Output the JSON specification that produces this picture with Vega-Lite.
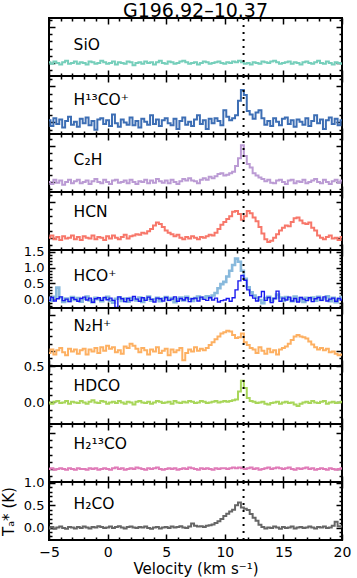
{
  "$schema": "https://vega.github.io/schema/vega-lite/v6.json",
  "padding": {"top": 2, "left": 0, "right": 0, "bottom": 0},
  "bounds": "flush",
  "spacing": 0,
  "title": {"text": "G196.92–10.37", "anchor": "middle", "frame": "group", "baseline": "alphabetic", "fontSize": 19, "fontWeight": "normal", "color": "black", "font": "DejaVu Sans", "offset": -20},
  "config": {
    "font": "DejaVu Sans",
    "view": {"stroke": "black", "strokeWidth": 2},
    "axis": {"grid": false, "domain": false, "tickColor": "black", "tickWidth": 1.5, "labelFontSize": 13, "labelColor": "black", "labelFlush": false, "labelOverlap": false, "labelPadding": 11, "titleFontSize": 15, "titleFontWeight": "normal", "titleColor": "black", "labelFont": "DejaVu Sans", "titleFont": "DejaVu Sans"},
    "text": {"align": "left", "baseline": "middle", "fontSize": 15.5, "font": "DejaVu Sans", "fill": "black", "fontWeight": "normal"}
  },
  "data": {"values": [
{"v":-5,"sio":0.01,"h13":0.03,"c2h":0,"hcn":0,"hco1":0.05,"hco2":-0.03,"n2h":-0.03,"hdco":0,"h213":0,"h2co":-0.02},
{"v":-4.75,"sio":-0.01,"h13":-0.05,"c2h":-0.03,"hcn":0.03,"hco1":-0.04,"hco2":0.06,"n2h":0.02,"hdco":-0.02,"h213":0.01,"h2co":0.01},
{"v":-4.5,"sio":0.02,"h13":0.06,"c2h":0.03,"hcn":-0.02,"hco1":0.08,"hco2":-0.05,"n2h":-0.05,"hdco":0.01,"h213":-0.01,"h2co":-0.03},
{"v":-4.25,"sio":0,"h13":-0.02,"c2h":-0.01,"hcn":0.01,"hco1":0.37,"hco2":0.02,"n2h":0.01,"hdco":0.02,"h213":0,"h2co":0},
{"v":-4,"sio":-0.02,"h13":0.04,"c2h":0.02,"hcn":-0.03,"hco1":0.06,"hco2":0.08,"n2h":0.04,"hdco":-0.01,"h213":0.01,"h2co":0.02},
{"v":-3.75,"sio":0.01,"h13":-0.07,"c2h":-0.04,"hcn":0.02,"hco1":-0.08,"hco2":-0.04,"n2h":-0.02,"hdco":0,"h213":0,"h2co":-0.01},
{"v":-3.5,"sio":0.03,"h13":0.02,"c2h":0,"hcn":-0.01,"hco1":0.03,"hco2":0.01,"n2h":-0.06,"hdco":0.02,"h213":-0.01,"h2co":-0.03},
{"v":-3.25,"sio":-0.01,"h13":0.08,"c2h":0.03,"hcn":0,"hco1":-0.05,"hco2":-0.07,"n2h":0.03,"hdco":-0.02,"h213":0.01,"h2co":0.01},
{"v":-3,"sio":0,"h13":-0.03,"c2h":-0.02,"hcn":0.03,"hco1":0.07,"hco2":0.05,"n2h":-0.01,"hdco":0.01,"h213":0,"h2co":0},
{"v":-2.75,"sio":0.02,"h13":0.01,"c2h":0.01,"hcn":-0.02,"hco1":-0.02,"hco2":0,"n2h":0.02,"hdco":0,"h213":-0.01,"h2co":-0.02},
{"v":-2.5,"sio":-0.01,"h13":-0.06,"c2h":0.03,"hcn":0.01,"hco1":0.04,"hco2":-0.06,"n2h":-0.04,"hdco":-0.01,"h213":0.01,"h2co":0.01},
{"v":-2.25,"sio":0.01,"h13":0.05,"c2h":-0.02,"hcn":-0.03,"hco1":-0.07,"hco2":0.03,"n2h":0.01,"hdco":0.02,"h213":0,"h2co":-0.01},
{"v":-2,"sio":0,"h13":-0.01,"c2h":0,"hcn":0.02,"hco1":0.02,"hco2":0.07,"n2h":0.03,"hdco":0,"h213":0,"h2co":0.02},
{"v":-1.75,"sio":-0.02,"h13":0.07,"c2h":0.02,"hcn":0,"hco1":0.09,"hco2":-0.02,"n2h":-0.05,"hdco":-0.02,"h213":-0.01,"h2co":0},
{"v":-1.5,"sio":0.02,"h13":-0.04,"c2h":-0.03,"hcn":-0.01,"hco1":-0.03,"hco2":0.04,"n2h":0.02,"hdco":0.01,"h213":0.01,"h2co":-0.02},
{"v":-1.25,"sio":0.01,"h13":0.02,"c2h":0.01,"hcn":0.03,"hco1":-0.09,"hco2":-0.09,"n2h":-0.01,"hdco":0.03,"h213":0,"h2co":0.01},
{"v":-1,"sio":-0.01,"h13":-0.1,"c2h":0.04,"hcn":-0.02,"hco1":0.05,"hco2":0.02,"n2h":0.04,"hdco":0,"h213":0.01,"h2co":0},
{"v":-0.75,"sio":0,"h13":0.04,"c2h":0,"hcn":0.01,"hco1":0.01,"hco2":0.05,"n2h":-0.03,"hdco":-0.01,"h213":-0.01,"h2co":0.03},
{"v":-0.5,"sio":0.03,"h13":0.06,"c2h":-0.02,"hcn":0,"hco1":-0.06,"hco2":-0.03,"n2h":0.05,"hdco":0.02,"h213":0,"h2co":0.01},
{"v":-0.25,"sio":0.01,"h13":-0.02,"c2h":0.03,"hcn":-0.03,"hco1":0.03,"hco2":0.06,"n2h":0,"hdco":0.01,"h213":0.01,"h2co":-0.01},
{"v":0,"sio":-0.01,"h13":0.03,"c2h":0,"hcn":0.02,"hco1":0.08,"hco2":-0.01,"n2h":0.07,"hdco":-0.02,"h213":0,"h2co":0},
{"v":0.25,"sio":0,"h13":-0.05,"c2h":-0.03,"hcn":-0.01,"hco1":-0.04,"hco2":0.04,"n2h":0.03,"hdco":0,"h213":-0.01,"h2co":0.02},
{"v":0.5,"sio":0.02,"h13":0.11,"c2h":0.02,"hcn":0.03,"hco1":-0.1,"hco2":-0.03,"n2h":0.05,"hdco":0.01,"h213":0.01,"h2co":-0.01},
{"v":0.75,"sio":-0.02,"h13":-0.01,"c2h":0.03,"hcn":0,"hco1":0.02,"hco2":-0.25,"n2h":-0.02,"hdco":-0.01,"h213":0.02,"h2co":0.01},
{"v":1,"sio":0.01,"h13":-0.06,"c2h":-0.01,"hcn":-0.02,"hco1":0.06,"hco2":0.08,"n2h":0.01,"hdco":0.02,"h213":0,"h2co":0.03},
{"v":1.25,"sio":0,"h13":0.04,"c2h":0,"hcn":0.01,"hco1":-0.05,"hco2":0.02,"n2h":-0.04,"hdco":0,"h213":0.01,"h2co":0},
{"v":1.5,"sio":-0.01,"h13":0,"c2h":0.02,"hcn":0.04,"hco1":0.03,"hco2":-0.07,"n2h":0.06,"hdco":-0.02,"h213":-0.01,"h2co":-0.02},
{"v":1.75,"sio":0.02,"h13":-0.03,"c2h":-0.02,"hcn":-0.01,"hco1":-0.07,"hco2":0.03,"n2h":0.04,"hdco":0.01,"h213":0,"h2co":0.01},
{"v":2,"sio":0.01,"h13":0.07,"c2h":0.03,"hcn":0.02,"hco1":0.04,"hco2":-0.04,"n2h":0.1,"hdco":0,"h213":0.01,"h2co":0.02},
{"v":2.25,"sio":-0.03,"h13":-0.04,"c2h":0,"hcn":0.03,"hco1":0.01,"hco2":0.09,"n2h":0.07,"hdco":-0.03,"h213":0,"h2co":0},
{"v":2.5,"sio":0,"h13":0.02,"c2h":-0.03,"hcn":0.05,"hco1":-0.03,"hco2":0.01,"n2h":0.03,"hdco":0.01,"h213":0.02,"h2co":-0.01},
{"v":2.75,"sio":0.01,"h13":-0.07,"c2h":0.01,"hcn":0.04,"hco1":0.06,"hco2":-0.06,"n2h":-0.02,"hdco":0.02,"h213":0.01,"h2co":0.01},
{"v":3,"sio":-0.01,"h13":0.05,"c2h":0,"hcn":0.07,"hco1":-0.08,"hco2":0.05,"n2h":0.04,"hdco":0,"h213":0,"h2co":0},
{"v":3.25,"sio":0.02,"h13":0.01,"c2h":0.03,"hcn":0.06,"hco1":0.02,"hco2":-0.03,"n2h":0.01,"hdco":-0.01,"h213":-0.01,"h2co":0.02},
{"v":3.5,"sio":0,"h13":-0.03,"c2h":-0.02,"hcn":0.09,"hco1":0.09,"hco2":0.07,"n2h":-0.05,"hdco":0.01,"h213":0.01,"h2co":-0.01},
{"v":3.75,"sio":0.01,"h13":0.1,"c2h":0.02,"hcn":0.12,"hco1":-0.04,"hco2":0,"n2h":0.02,"hdco":-0.02,"h213":0,"h2co":-0.03},
{"v":4,"sio":-0.02,"h13":-0.02,"c2h":-0.01,"hcn":0.17,"hco1":0,"hco2":-0.08,"n2h":-0.01,"hdco":0,"h213":0.01,"h2co":0},
{"v":4.25,"sio":0.01,"h13":0.04,"c2h":0.04,"hcn":0.21,"hco1":0.05,"hco2":0.04,"n2h":0.05,"hdco":0.02,"h213":0.02,"h2co":0.01},
{"v":4.5,"sio":0.03,"h13":-0.05,"c2h":0.01,"hcn":0.19,"hco1":-0.06,"hco2":0.02,"n2h":-0.03,"hdco":0.01,"h213":0,"h2co":-0.02},
{"v":4.75,"sio":0,"h13":0.03,"c2h":-0.01,"hcn":0.15,"hco1":0.03,"hco2":-0.05,"n2h":0,"hdco":-0.01,"h213":-0.01,"h2co":0},
{"v":5,"sio":-0.01,"h13":0.06,"c2h":0.02,"hcn":0.1,"hco1":0.07,"hco2":0.06,"n2h":0.03,"hdco":0,"h213":0,"h2co":0.01},
{"v":5.25,"sio":0.02,"h13":-0.01,"c2h":-0.02,"hcn":0.07,"hco1":-0.02,"hco2":-0.03,"n2h":-0.06,"hdco":0.01,"h213":0.01,"h2co":-0.01},
{"v":5.5,"sio":0.01,"h13":-0.04,"c2h":0.03,"hcn":0.05,"hco1":0.04,"hco2":0.01,"n2h":0.02,"hdco":-0.02,"h213":0,"h2co":0.02},
{"v":5.75,"sio":-0.01,"h13":0.05,"c2h":0,"hcn":0.02,"hco1":-0.09,"hco2":0.08,"n2h":-0.02,"hdco":0.02,"h213":0.01,"h2co":0},
{"v":6,"sio":0,"h13":-0.09,"c2h":-0.03,"hcn":0.04,"hco1":0.01,"hco2":-0.06,"n2h":0.01,"hdco":0,"h213":-0.01,"h2co":0.01},
{"v":6.25,"sio":0.02,"h13":0.02,"c2h":0.01,"hcn":0,"hco1":0.06,"hco2":0.03,"n2h":0.04,"hdco":-0.01,"h213":0,"h2co":0.03},
{"v":6.5,"sio":0.03,"h13":0.07,"c2h":0.04,"hcn":-0.02,"hco1":-0.03,"hco2":-0.02,"n2h":-0.13,"hdco":0.01,"h213":0.01,"h2co":0},
{"v":6.75,"sio":0.01,"h13":-0.03,"c2h":0.02,"hcn":0.01,"hco1":0.08,"hco2":0.05,"n2h":-0.03,"hdco":0,"h213":0,"h2co":-0.01},
{"v":7,"sio":-0.01,"h13":0.01,"c2h":0.05,"hcn":-0.01,"hco1":0.02,"hco2":-0.07,"n2h":0.02,"hdco":0.02,"h213":0.02,"h2co":0.02},
{"v":7.25,"sio":0,"h13":-0.05,"c2h":0.02,"hcn":0.02,"hco1":-0.05,"hco2":0.02,"n2h":-0.01,"hdco":0.01,"h213":0.01,"h2co":0.09},
{"v":7.5,"sio":0.01,"h13":0.04,"c2h":0.01,"hcn":0,"hco1":0.04,"hco2":0.04,"n2h":0.05,"hdco":-0.01,"h213":0,"h2co":0.04},
{"v":7.75,"sio":-0.02,"h13":0.1,"c2h":-0.02,"hcn":-0.02,"hco1":0.09,"hco2":-0.05,"n2h":0,"hdco":0,"h213":-0.01,"h2co":0.02},
{"v":8,"sio":0,"h13":-0.02,"c2h":0.03,"hcn":0.01,"hco1":0.03,"hco2":0.07,"n2h":0.03,"hdco":0.02,"h213":0.01,"h2co":0.03},
{"v":8.25,"sio":0.02,"h13":0.03,"c2h":0.05,"hcn":0,"hco1":0.06,"hco2":0,"n2h":0.01,"hdco":0.01,"h213":0,"h2co":0.01},
{"v":8.5,"sio":0.01,"h13":-0.09,"c2h":0.03,"hcn":0.02,"hco1":0.1,"hco2":-0.03,"n2h":0.04,"hdco":-0.01,"h213":0.01,"h2co":0.04},
{"v":8.75,"sio":-0.01,"h13":0.05,"c2h":0.07,"hcn":0.04,"hco1":0.05,"hco2":0.06,"n2h":0.08,"hdco":0,"h213":0,"h2co":0.05},
{"v":9,"sio":0,"h13":-0.01,"c2h":0.05,"hcn":0.03,"hco1":0.12,"hco2":-0.02,"n2h":0.12,"hdco":0.01,"h213":-0.01,"h2co":0.07},
{"v":9.25,"sio":0.01,"h13":0.06,"c2h":0.08,"hcn":0.07,"hco1":0.2,"hco2":0.04,"n2h":0.16,"hdco":0.02,"h213":0.01,"h2co":0.1},
{"v":9.5,"sio":0.02,"h13":0.02,"c2h":0.11,"hcn":0.12,"hco1":0.35,"hco2":-0.08,"n2h":0.2,"hdco":0,"h213":0,"h2co":0.14},
{"v":9.75,"sio":0,"h13":-0.04,"c2h":0.12,"hcn":0.18,"hco1":0.48,"hco2":-0.04,"n2h":0.24,"hdco":0.01,"h213":0.01,"h2co":0.19},
{"v":10,"sio":-0.01,"h13":0.17,"c2h":0.09,"hcn":0.22,"hco1":0.55,"hco2":-0.02,"n2h":0.26,"hdco":0.02,"h213":0.01,"h2co":0.26},
{"v":10.25,"sio":0.01,"h13":0.08,"c2h":0.1,"hcn":0.26,"hco1":0.72,"hco2":0.03,"n2h":0.28,"hdco":0.01,"h213":0,"h2co":0.31},
{"v":10.5,"sio":0,"h13":0.03,"c2h":0.12,"hcn":0.3,"hco1":0.9,"hco2":-0.06,"n2h":0.27,"hdco":0.02,"h213":0.01,"h2co":0.36},
{"v":10.75,"sio":0.02,"h13":0.06,"c2h":0.14,"hcn":0.36,"hco1":1.08,"hco2":0.05,"n2h":0.22,"hdco":0.03,"h213":0.02,"h2co":0.4},
{"v":11,"sio":0.01,"h13":0.1,"c2h":0.22,"hcn":0.37,"hco1":1.28,"hco2":0.3,"n2h":0.18,"hdco":0.04,"h213":0.01,"h2co":0.5},
{"v":11.25,"sio":0.03,"h13":0.3,"c2h":0.33,"hcn":0.33,"hco1":1.18,"hco2":0.58,"n2h":0.19,"hdco":0.15,"h213":0.02,"h2co":0.56},
{"v":11.5,"sio":0.01,"h13":0.45,"c2h":0.51,"hcn":0.25,"hco1":0.9,"hco2":0.75,"n2h":0.24,"hdco":0.3,"h213":0.01,"h2co":0.45},
{"v":11.75,"sio":-0.01,"h13":0.38,"c2h":0.36,"hcn":0.3,"hco1":0.65,"hco2":0.6,"n2h":0.12,"hdco":0.2,"h213":0,"h2co":0.42},
{"v":12,"sio":0,"h13":0.16,"c2h":0.25,"hcn":0.37,"hco1":0.38,"hco2":0.3,"n2h":0.08,"hdco":0.06,"h213":0.01,"h2co":0.39},
{"v":12.25,"sio":-0.02,"h13":0.11,"c2h":0.2,"hcn":0.34,"hco1":0.22,"hco2":0.12,"n2h":0.04,"hdco":0.02,"h213":0.02,"h2co":0.3},
{"v":12.5,"sio":0.01,"h13":0.05,"c2h":0.12,"hcn":0.28,"hco1":0.12,"hco2":0.04,"n2h":0.02,"hdco":0.01,"h213":0,"h2co":0.22},
{"v":12.75,"sio":0,"h13":0.14,"c2h":0.09,"hcn":0.23,"hco1":0.05,"hco2":-0.05,"n2h":-0.03,"hdco":-0.01,"h213":0.01,"h2co":0.15},
{"v":13,"sio":-0.01,"h13":0.17,"c2h":0.06,"hcn":0.15,"hco1":-0.02,"hco2":0.08,"n2h":0.05,"hdco":0,"h213":-0.01,"h2co":0.06},
{"v":13.25,"sio":0.02,"h13":0.06,"c2h":0.04,"hcn":0.06,"hco1":-0.12,"hco2":0.25,"n2h":0,"hdco":0.01,"h213":0,"h2co":0.01},
{"v":13.5,"sio":0.01,"h13":-0.03,"c2h":0.01,"hcn":-0.02,"hco1":0.04,"hco2":-0.03,"n2h":-0.04,"hdco":-0.02,"h213":0.01,"h2co":-0.02},
{"v":13.75,"sio":0,"h13":0.02,"c2h":0.03,"hcn":-0.06,"hco1":0.08,"hco2":0.06,"n2h":0.03,"hdco":-0.03,"h213":0.02,"h2co":0},
{"v":14,"sio":0.02,"h13":-0.05,"c2h":-0.01,"hcn":-0.04,"hco1":-0.05,"hco2":-0.1,"n2h":-0.02,"hdco":-0.01,"h213":0,"h2co":-0.01},
{"v":14.25,"sio":0.03,"h13":0.06,"c2h":-0.02,"hcn":0,"hco1":0.03,"hco2":0.03,"n2h":0.01,"hdco":0,"h213":0.01,"h2co":0.02},
{"v":14.5,"sio":0.01,"h13":0.01,"c2h":0.02,"hcn":0.05,"hco1":0.15,"hco2":0.26,"n2h":-0.05,"hdco":0.01,"h213":0.02,"h2co":0},
{"v":14.75,"sio":-0.01,"h13":-0.04,"c2h":0.03,"hcn":0.1,"hco1":0.06,"hco2":-0.06,"n2h":0.02,"hdco":-0.02,"h213":0.01,"h2co":-0.03},
{"v":15,"sio":0,"h13":0.05,"c2h":0,"hcn":0.14,"hco1":-0.04,"hco2":0.04,"n2h":0.04,"hdco":0,"h213":0,"h2co":0.01},
{"v":15.25,"sio":0.01,"h13":0.07,"c2h":-0.03,"hcn":0.17,"hco1":0.07,"hco2":-0.02,"n2h":0.06,"hdco":0.01,"h213":0.01,"h2co":-0.01},
{"v":15.5,"sio":0.02,"h13":-0.02,"c2h":0.02,"hcn":0.16,"hco1":0.02,"hco2":0.07,"n2h":0.1,"hdco":-0.01,"h213":0.02,"h2co":0},
{"v":15.75,"sio":-0.01,"h13":0.03,"c2h":0.03,"hcn":0.22,"hco1":-0.06,"hco2":-0.05,"n2h":0.15,"hdco":0,"h213":0,"h2co":0.02},
{"v":16,"sio":0.01,"h13":-0.06,"c2h":-0.02,"hcn":0.27,"hco1":0.09,"hco2":0.03,"n2h":0.2,"hdco":-0.03,"h213":-0.01,"h2co":-0.02},
{"v":16.25,"sio":0,"h13":0.04,"c2h":0.01,"hcn":0.28,"hco1":-0.03,"hco2":-0.08,"n2h":0.22,"hdco":-0.05,"h213":0.01,"h2co":0},
{"v":16.5,"sio":-0.02,"h13":0.01,"c2h":0,"hcn":0.24,"hco1":0.04,"hco2":0.06,"n2h":0.2,"hdco":-0.02,"h213":0,"h2co":0.01},
{"v":16.75,"sio":0.01,"h13":-0.03,"c2h":0.03,"hcn":0.2,"hco1":-0.08,"hco2":0.01,"n2h":0.19,"hdco":0,"h213":0.01,"h2co":-0.01},
{"v":17,"sio":0.02,"h13":0.06,"c2h":-0.02,"hcn":0.19,"hco1":0.05,"hco2":-0.04,"n2h":0.17,"hdco":0.01,"h213":0.02,"h2co":0},
{"v":17.25,"sio":0,"h13":-0.05,"c2h":0,"hcn":0.21,"hco1":0.01,"hco2":0.05,"n2h":0.13,"hdco":-0.01,"h213":0,"h2co":0.02},
{"v":17.5,"sio":-0.01,"h13":0.02,"c2h":0.02,"hcn":0.14,"hco1":0.06,"hco2":-0.07,"n2h":0.09,"hdco":0.02,"h213":0.01,"h2co":0},
{"v":17.75,"sio":0.01,"h13":0.1,"c2h":0.04,"hcn":0.1,"hco1":-0.04,"hco2":0.02,"n2h":0.05,"hdco":0,"h213":-0.01,"h2co":-0.02},
{"v":18,"sio":0.03,"h13":-0.01,"c2h":0,"hcn":0.03,"hco1":0.08,"hco2":0.06,"n2h":0.02,"hdco":-0.01,"h213":0,"h2co":0.01},
{"v":18.25,"sio":0,"h13":0.04,"c2h":-0.02,"hcn":0,"hco1":-0.02,"hco2":-0.03,"n2h":0.04,"hdco":0.01,"h213":0.01,"h2co":0},
{"v":18.5,"sio":-0.01,"h13":-0.09,"c2h":0.03,"hcn":-0.02,"hco1":0.03,"hco2":0.08,"n2h":0.01,"hdco":0.02,"h213":0,"h2co":0.02},
{"v":18.75,"sio":0.02,"h13":0.03,"c2h":0,"hcn":0.01,"hco1":0.1,"hco2":-0.05,"n2h":0.03,"hdco":-0.02,"h213":-0.01,"h2co":-0.01},
{"v":19,"sio":0,"h13":0.07,"c2h":-0.03,"hcn":0.03,"hco1":-0.06,"hco2":0.01,"n2h":-0.02,"hdco":0,"h213":0.01,"h2co":0},
{"v":19.25,"sio":-0.02,"h13":-0.02,"c2h":0.01,"hcn":-0.01,"hco1":0.05,"hco2":0.04,"n2h":-0.01,"hdco":0.01,"h213":0,"h2co":0.04},
{"v":19.5,"sio":0.01,"h13":0.05,"c2h":0.03,"hcn":0,"hco1":-0.09,"hco2":-0.06,"n2h":-0.04,"hdco":-0.01,"h213":-0.01,"h2co":0.13},
{"v":19.75,"sio":0,"h13":-0.04,"c2h":-0.01,"hcn":-0.03,"hco1":0.02,"hco2":0.03,"n2h":-0.06,"hdco":0,"h213":0,"h2co":0.03},
{"v":20,"sio":-0.01,"h13":0.03,"c2h":0.02,"hcn":0.01,"hco1":0.07,"hco2":-0.02,"n2h":-0.05,"hdco":0.01,"h213":0.01,"h2co":0.02}
  ]},
  "vconcat": [
    {
      "width": 293, "height": 58,
      "layer": [
        {"mark": {"type": "line", "interpolate": "step", "color": "#76cfbb", "strokeWidth": 2},
         "encoding": {
           "x": {"field": "v", "type": "quantitative", "scale": {"domain": [-5, 20], "nice": false, "zero": false}, "axis": {"orient": "bottom", "values": [-5, 0, 5, 10, 15, 20], "tickSize": -6, "labels": false, "title": null}},
           "y": {"field": "sio", "type": "quantitative", "scale": {"domain": [-0.18, 0.625], "nice": false, "zero": false}, "axis": {"orient": "left", "values": [0, 0.5], "tickSize": -6, "labels": false, "title": null}}}},
        {"mark": {"type": "line", "opacity": 0},
         "encoding": {
           "x": {"field": "v", "type": "quantitative", "axis": {"orient": "top", "values": [-5, 0, 5, 10, 15, 20], "tickSize": -6, "labels": false, "title": null}},
           "y": {"field": "sio", "type": "quantitative", "axis": {"orient": "right", "values": [0, 0.5], "tickSize": -6, "labels": false, "title": null}}}},
        {"mark": {"type": "line", "opacity": 0},
         "encoding": {
           "x": {"field": "v", "type": "quantitative", "axis": {"orient": "bottom", "values": [-4, -3, -2, -1, 1, 2, 3, 4, 6, 7, 8, 9, 11, 12, 13, 14, 16, 17, 18, 19], "tickSize": -3, "labels": false, "title": null}},
           "y": {"field": "sio", "type": "quantitative", "axis": {"orient": "left", "values": [-0.1, 0.1, 0.2, 0.3, 0.4, 0.6], "tickSize": -3, "labels": false, "title": null}}}},
        {"mark": {"type": "line", "opacity": 0},
         "encoding": {
           "x": {"field": "v", "type": "quantitative", "axis": {"orient": "top", "values": [-4, -3, -2, -1, 1, 2, 3, 4, 6, 7, 8, 9, 11, 12, 13, 14, 16, 17, 18, 19], "tickSize": -3, "labels": false, "title": null}},
           "y": {"field": "sio", "type": "quantitative", "axis": {"orient": "right", "values": [-0.1, 0.1, 0.2, 0.3, 0.4, 0.6], "tickSize": -3, "labels": false, "title": null}}}},
        {"data": {"values": [{"vlsr": 11.6}]},
         "mark": {"type": "rule", "color": "black", "strokeWidth": 2, "strokeDash": [2, 5]},
         "encoding": {"x": {"field": "vlsr", "type": "quantitative", "axis": null}}},
        {"data": {"values": [{"label": "SiO"}]},
         "mark": {"type": "text"},
         "encoding": {"text": {"field": "label"}, "x": {"datum": -2.9, "axis": null}, "y": {"datum": 0.25, "axis": null}}}
      ],
      "resolve": {"axis": {"x": "independent", "y": "independent"}}
    },
    {
      "width": 293, "height": 58,
      "layer": [
        {"mark": {"type": "line", "interpolate": "step", "color": "#3d6eb4", "strokeWidth": 2},
         "encoding": {
           "x": {"field": "v", "type": "quantitative", "scale": {"domain": [-5, 20], "nice": false, "zero": false}, "axis": {"orient": "bottom", "values": [-5, 0, 5, 10, 15, 20], "tickSize": -6, "labels": false, "title": null}},
           "y": {"field": "h13", "type": "quantitative", "scale": {"domain": [-0.16, 0.645], "nice": false, "zero": false}, "axis": {"orient": "left", "values": [0, 0.5], "tickSize": -6, "labels": false, "title": null}}}},
        {"mark": {"type": "line", "opacity": 0},
         "encoding": {
           "x": {"field": "v", "type": "quantitative", "axis": {"orient": "top", "values": [-5, 0, 5, 10, 15, 20], "tickSize": -6, "labels": false, "title": null}},
           "y": {"field": "h13", "type": "quantitative", "axis": {"orient": "right", "values": [0, 0.5], "tickSize": -6, "labels": false, "title": null}}}},
        {"mark": {"type": "line", "opacity": 0},
         "encoding": {
           "x": {"field": "v", "type": "quantitative", "axis": {"orient": "bottom", "values": [-4, -3, -2, -1, 1, 2, 3, 4, 6, 7, 8, 9, 11, 12, 13, 14, 16, 17, 18, 19], "tickSize": -3, "labels": false, "title": null}},
           "y": {"field": "h13", "type": "quantitative", "axis": {"orient": "left", "values": [-0.1, 0.1, 0.2, 0.3, 0.4, 0.6], "tickSize": -3, "labels": false, "title": null}}}},
        {"mark": {"type": "line", "opacity": 0},
         "encoding": {
           "x": {"field": "v", "type": "quantitative", "axis": {"orient": "top", "values": [-4, -3, -2, -1, 1, 2, 3, 4, 6, 7, 8, 9, 11, 12, 13, 14, 16, 17, 18, 19], "tickSize": -3, "labels": false, "title": null}},
           "y": {"field": "h13", "type": "quantitative", "axis": {"orient": "right", "values": [-0.1, 0.1, 0.2, 0.3, 0.4, 0.6], "tickSize": -3, "labels": false, "title": null}}}},
        {"data": {"values": [{"vlsr": 11.6}]},
         "mark": {"type": "rule", "color": "black", "strokeWidth": 2, "strokeDash": [2, 5]},
         "encoding": {"x": {"field": "vlsr", "type": "quantitative", "axis": null}}},
        {"data": {"values": [{"label": "H¹³CO⁺"}]},
         "mark": {"type": "text"},
         "encoding": {"text": {"field": "label"}, "x": {"datum": -2.9, "axis": null}, "y": {"datum": 0.31, "axis": null}}}
      ],
      "resolve": {"axis": {"x": "independent", "y": "independent"}}
    },
    {
      "width": 293, "height": 58,
      "layer": [
        {"mark": {"type": "line", "interpolate": "step", "color": "#bb9bd4", "strokeWidth": 2},
         "encoding": {
           "x": {"field": "v", "type": "quantitative", "scale": {"domain": [-5, 20], "nice": false, "zero": false}, "axis": {"orient": "bottom", "values": [-5, 0, 5, 10, 15, 20], "tickSize": -6, "labels": false, "title": null}},
           "y": {"field": "c2h", "type": "quantitative", "scale": {"domain": [-0.14, 0.665], "nice": false, "zero": false}, "axis": {"orient": "left", "values": [0, 0.5], "tickSize": -6, "labels": false, "title": null}}}},
        {"mark": {"type": "line", "opacity": 0},
         "encoding": {
           "x": {"field": "v", "type": "quantitative", "axis": {"orient": "top", "values": [-5, 0, 5, 10, 15, 20], "tickSize": -6, "labels": false, "title": null}},
           "y": {"field": "c2h", "type": "quantitative", "axis": {"orient": "right", "values": [0, 0.5], "tickSize": -6, "labels": false, "title": null}}}},
        {"mark": {"type": "line", "opacity": 0},
         "encoding": {
           "x": {"field": "v", "type": "quantitative", "axis": {"orient": "bottom", "values": [-4, -3, -2, -1, 1, 2, 3, 4, 6, 7, 8, 9, 11, 12, 13, 14, 16, 17, 18, 19], "tickSize": -3, "labels": false, "title": null}},
           "y": {"field": "c2h", "type": "quantitative", "axis": {"orient": "left", "values": [-0.1, 0.1, 0.2, 0.3, 0.4, 0.6], "tickSize": -3, "labels": false, "title": null}}}},
        {"mark": {"type": "line", "opacity": 0},
         "encoding": {
           "x": {"field": "v", "type": "quantitative", "axis": {"orient": "top", "values": [-4, -3, -2, -1, 1, 2, 3, 4, 6, 7, 8, 9, 11, 12, 13, 14, 16, 17, 18, 19], "tickSize": -3, "labels": false, "title": null}},
           "y": {"field": "c2h", "type": "quantitative", "axis": {"orient": "right", "values": [-0.1, 0.1, 0.2, 0.3, 0.4, 0.6], "tickSize": -3, "labels": false, "title": null}}}},
        {"data": {"values": [{"vlsr": 11.6}]},
         "mark": {"type": "rule", "color": "black", "strokeWidth": 2, "strokeDash": [2, 5]},
         "encoding": {"x": {"field": "vlsr", "type": "quantitative", "axis": null}}},
        {"data": {"values": [{"label": "C₂H"}]},
         "mark": {"type": "text"},
         "encoding": {"text": {"field": "label"}, "x": {"datum": -2.9, "axis": null}, "y": {"datum": 0.3, "axis": null}}}
      ],
      "resolve": {"axis": {"x": "independent", "y": "independent"}}
    },
    {
      "width": 293, "height": 58,
      "layer": [
        {"mark": {"type": "line", "interpolate": "step", "color": "#f7776a", "strokeWidth": 2},
         "encoding": {
           "x": {"field": "v", "type": "quantitative", "scale": {"domain": [-5, 20], "nice": false, "zero": false}, "axis": {"orient": "bottom", "values": [-5, 0, 5, 10, 15, 20], "tickSize": -6, "labels": false, "title": null}},
           "y": {"field": "hcn", "type": "quantitative", "scale": {"domain": [-0.17, 0.635], "nice": false, "zero": false}, "axis": {"orient": "left", "values": [0, 0.5], "tickSize": -6, "labels": false, "title": null}}}},
        {"mark": {"type": "line", "opacity": 0},
         "encoding": {
           "x": {"field": "v", "type": "quantitative", "axis": {"orient": "top", "values": [-5, 0, 5, 10, 15, 20], "tickSize": -6, "labels": false, "title": null}},
           "y": {"field": "hcn", "type": "quantitative", "axis": {"orient": "right", "values": [0, 0.5], "tickSize": -6, "labels": false, "title": null}}}},
        {"mark": {"type": "line", "opacity": 0},
         "encoding": {
           "x": {"field": "v", "type": "quantitative", "axis": {"orient": "bottom", "values": [-4, -3, -2, -1, 1, 2, 3, 4, 6, 7, 8, 9, 11, 12, 13, 14, 16, 17, 18, 19], "tickSize": -3, "labels": false, "title": null}},
           "y": {"field": "hcn", "type": "quantitative", "axis": {"orient": "left", "values": [-0.1, 0.1, 0.2, 0.3, 0.4, 0.6], "tickSize": -3, "labels": false, "title": null}}}},
        {"mark": {"type": "line", "opacity": 0},
         "encoding": {
           "x": {"field": "v", "type": "quantitative", "axis": {"orient": "top", "values": [-4, -3, -2, -1, 1, 2, 3, 4, 6, 7, 8, 9, 11, 12, 13, 14, 16, 17, 18, 19], "tickSize": -3, "labels": false, "title": null}},
           "y": {"field": "hcn", "type": "quantitative", "axis": {"orient": "right", "values": [-0.1, 0.1, 0.2, 0.3, 0.4, 0.6], "tickSize": -3, "labels": false, "title": null}}}},
        {"data": {"values": [{"vlsr": 11.6}]},
         "mark": {"type": "rule", "color": "black", "strokeWidth": 2, "strokeDash": [2, 5]},
         "encoding": {"x": {"field": "vlsr", "type": "quantitative", "axis": null}}},
        {"data": {"values": [{"label": "HCN"}]},
         "mark": {"type": "text"},
         "encoding": {"text": {"field": "label"}, "x": {"datum": -2.9, "axis": null}, "y": {"datum": 0.36, "axis": null}}}
      ],
      "resolve": {"axis": {"x": "independent", "y": "independent"}}
    },
    {
      "width": 293, "height": 58,
      "layer": [
        {"mark": {"type": "line", "interpolate": "step", "color": "#88b9dc", "strokeWidth": 2.6},
         "encoding": {
           "x": {"field": "v", "type": "quantitative", "scale": {"domain": [-5, 20], "nice": false, "zero": false}, "axis": {"orient": "bottom", "values": [-5, 0, 5, 10, 15, 20], "tickSize": -6, "labels": false, "title": null}},
           "y": {"field": "hco1", "type": "quantitative", "scale": {"domain": [-0.27, 1.55], "nice": false, "zero": false}, "axis": {"orient": "left", "values": [0, 0.5, 1, 1.5], "format": ".1f", "tickSize": -6, "labels": true, "title": null}}}},
        {"mark": {"type": "line", "opacity": 0},
         "encoding": {
           "x": {"field": "v", "type": "quantitative", "axis": {"orient": "top", "values": [-5, 0, 5, 10, 15, 20], "tickSize": -6, "labels": false, "title": null}},
           "y": {"field": "hco1", "type": "quantitative", "axis": {"orient": "right", "values": [0, 0.5, 1, 1.5], "tickSize": -6, "labels": false, "title": null}}}},
        {"mark": {"type": "line", "opacity": 0},
         "encoding": {
           "x": {"field": "v", "type": "quantitative", "axis": {"orient": "bottom", "values": [-4, -3, -2, -1, 1, 2, 3, 4, 6, 7, 8, 9, 11, 12, 13, 14, 16, 17, 18, 19], "tickSize": -3, "labels": false, "title": null}},
           "y": {"field": "hco1", "type": "quantitative", "axis": {"orient": "left", "values": [-0.2, -0.1, 0.1, 0.2, 0.3, 0.4, 0.6, 0.7, 0.8, 0.9, 1.1, 1.2, 1.3, 1.4], "tickSize": -3, "labels": false, "title": null}}}},
        {"mark": {"type": "line", "opacity": 0},
         "encoding": {
           "x": {"field": "v", "type": "quantitative", "axis": {"orient": "top", "values": [-4, -3, -2, -1, 1, 2, 3, 4, 6, 7, 8, 9, 11, 12, 13, 14, 16, 17, 18, 19], "tickSize": -3, "labels": false, "title": null}},
           "y": {"field": "hco1", "type": "quantitative", "axis": {"orient": "right", "values": [-0.2, -0.1, 0.1, 0.2, 0.3, 0.4, 0.6, 0.7, 0.8, 0.9, 1.1, 1.2, 1.3, 1.4], "tickSize": -3, "labels": false, "title": null}}}},
        {"mark": {"type": "line", "interpolate": "step", "color": "#1a1aee", "strokeWidth": 1.4},
         "encoding": {
           "x": {"field": "v", "type": "quantitative", "axis": null},
           "y": {"field": "hco2", "type": "quantitative", "axis": null}}},
        {"data": {"values": [{"vlsr": 11.6}]},
         "mark": {"type": "rule", "color": "black", "strokeWidth": 2, "strokeDash": [2, 5]},
         "encoding": {"x": {"field": "vlsr", "type": "quantitative", "axis": null}}},
        {"data": {"values": [{"label": "HCO⁺"}]},
         "mark": {"type": "text"},
         "encoding": {"text": {"field": "label"}, "x": {"datum": -2.9, "axis": null}, "y": {"datum": 0.73, "axis": null}}}
      ],
      "resolve": {"axis": {"x": "independent", "y": "independent"}}
    },
    {
      "width": 293, "height": 58,
      "layer": [
        {"mark": {"type": "line", "interpolate": "step", "color": "#fdb062", "strokeWidth": 2},
         "encoding": {
           "x": {"field": "v", "type": "quantitative", "scale": {"domain": [-5, 20], "nice": false, "zero": false}, "axis": {"orient": "bottom", "values": [-5, 0, 5, 10, 15, 20], "tickSize": -6, "labels": false, "title": null}},
           "y": {"field": "n2h", "type": "quantitative", "scale": {"domain": [-0.21, 0.595], "nice": false, "zero": false}, "axis": {"orient": "left", "values": [0, 0.5], "tickSize": -6, "labels": false, "title": null}}}},
        {"mark": {"type": "line", "opacity": 0},
         "encoding": {
           "x": {"field": "v", "type": "quantitative", "axis": {"orient": "top", "values": [-5, 0, 5, 10, 15, 20], "tickSize": -6, "labels": false, "title": null}},
           "y": {"field": "n2h", "type": "quantitative", "axis": {"orient": "right", "values": [0, 0.5], "tickSize": -6, "labels": false, "title": null}}}},
        {"mark": {"type": "line", "opacity": 0},
         "encoding": {
           "x": {"field": "v", "type": "quantitative", "axis": {"orient": "bottom", "values": [-4, -3, -2, -1, 1, 2, 3, 4, 6, 7, 8, 9, 11, 12, 13, 14, 16, 17, 18, 19], "tickSize": -3, "labels": false, "title": null}},
           "y": {"field": "n2h", "type": "quantitative", "axis": {"orient": "left", "values": [-0.2, -0.1, 0.1, 0.2, 0.3, 0.4], "tickSize": -3, "labels": false, "title": null}}}},
        {"mark": {"type": "line", "opacity": 0},
         "encoding": {
           "x": {"field": "v", "type": "quantitative", "axis": {"orient": "top", "values": [-4, -3, -2, -1, 1, 2, 3, 4, 6, 7, 8, 9, 11, 12, 13, 14, 16, 17, 18, 19], "tickSize": -3, "labels": false, "title": null}},
           "y": {"field": "n2h", "type": "quantitative", "axis": {"orient": "right", "values": [-0.2, -0.1, 0.1, 0.2, 0.3, 0.4], "tickSize": -3, "labels": false, "title": null}}}},
        {"data": {"values": [{"vlsr": 11.6}]},
         "mark": {"type": "rule", "color": "black", "strokeWidth": 2, "strokeDash": [2, 5]},
         "encoding": {"x": {"field": "vlsr", "type": "quantitative", "axis": null}}},
        {"data": {"values": [{"label": "N₂H⁺"}]},
         "mark": {"type": "text"},
         "encoding": {"text": {"field": "label"}, "x": {"datum": -2.9, "axis": null}, "y": {"datum": 0.345, "axis": null}}}
      ],
      "resolve": {"axis": {"x": "independent", "y": "independent"}}
    },
    {
      "width": 293, "height": 58,
      "layer": [
        {"mark": {"type": "line", "interpolate": "step", "color": "#a8d65a", "strokeWidth": 2},
         "encoding": {
           "x": {"field": "v", "type": "quantitative", "scale": {"domain": [-5, 20], "nice": false, "zero": false}, "axis": {"orient": "bottom", "values": [-5, 0, 5, 10, 15, 20], "tickSize": -6, "labels": false, "title": null}},
           "y": {"field": "hdco", "type": "quantitative", "scale": {"domain": [-0.3, 0.505], "nice": false, "zero": false}, "axis": {"orient": "left", "values": [0, 0.5], "format": ".1f", "tickSize": -6, "labels": true, "title": null}}}},
        {"mark": {"type": "line", "opacity": 0},
         "encoding": {
           "x": {"field": "v", "type": "quantitative", "axis": {"orient": "top", "values": [-5, 0, 5, 10, 15, 20], "tickSize": -6, "labels": false, "title": null}},
           "y": {"field": "hdco", "type": "quantitative", "axis": {"orient": "right", "values": [0, 0.5], "tickSize": -6, "labels": false, "title": null}}}},
        {"mark": {"type": "line", "opacity": 0},
         "encoding": {
           "x": {"field": "v", "type": "quantitative", "axis": {"orient": "bottom", "values": [-4, -3, -2, -1, 1, 2, 3, 4, 6, 7, 8, 9, 11, 12, 13, 14, 16, 17, 18, 19], "tickSize": -3, "labels": false, "title": null}},
           "y": {"field": "hdco", "type": "quantitative", "axis": {"orient": "left", "values": [-0.2, -0.1, 0.1, 0.2, 0.3, 0.4], "tickSize": -3, "labels": false, "title": null}}}},
        {"mark": {"type": "line", "opacity": 0},
         "encoding": {
           "x": {"field": "v", "type": "quantitative", "axis": {"orient": "top", "values": [-4, -3, -2, -1, 1, 2, 3, 4, 6, 7, 8, 9, 11, 12, 13, 14, 16, 17, 18, 19], "tickSize": -3, "labels": false, "title": null}},
           "y": {"field": "hdco", "type": "quantitative", "axis": {"orient": "right", "values": [-0.2, -0.1, 0.1, 0.2, 0.3, 0.4], "tickSize": -3, "labels": false, "title": null}}}},
        {"data": {"values": [{"vlsr": 11.6}]},
         "mark": {"type": "rule", "color": "black", "strokeWidth": 2, "strokeDash": [2, 5]},
         "encoding": {"x": {"field": "vlsr", "type": "quantitative", "axis": null}}},
        {"data": {"values": [{"label": "HDCO"}]},
         "mark": {"type": "text"},
         "encoding": {"text": {"field": "label"}, "x": {"datum": -2.9, "axis": null}, "y": {"datum": 0.23, "axis": null}}}
      ],
      "resolve": {"axis": {"x": "independent", "y": "independent"}}
    },
    {
      "width": 293, "height": 58,
      "layer": [
        {"mark": {"type": "line", "interpolate": "step", "color": "#e07bb8", "strokeWidth": 2},
         "encoding": {
           "x": {"field": "v", "type": "quantitative", "scale": {"domain": [-5, 20], "nice": false, "zero": false}, "axis": {"orient": "bottom", "values": [-5, 0, 5, 10, 15, 20], "tickSize": -6, "labels": false, "title": null}},
           "y": {"field": "h213", "type": "quantitative", "scale": {"domain": [-0.18, 0.625], "nice": false, "zero": false}, "axis": {"orient": "left", "values": [0, 0.5], "tickSize": -6, "labels": false, "title": null}}}},
        {"mark": {"type": "line", "opacity": 0},
         "encoding": {
           "x": {"field": "v", "type": "quantitative", "axis": {"orient": "top", "values": [-5, 0, 5, 10, 15, 20], "tickSize": -6, "labels": false, "title": null}},
           "y": {"field": "h213", "type": "quantitative", "axis": {"orient": "right", "values": [0, 0.5], "tickSize": -6, "labels": false, "title": null}}}},
        {"mark": {"type": "line", "opacity": 0},
         "encoding": {
           "x": {"field": "v", "type": "quantitative", "axis": {"orient": "bottom", "values": [-4, -3, -2, -1, 1, 2, 3, 4, 6, 7, 8, 9, 11, 12, 13, 14, 16, 17, 18, 19], "tickSize": -3, "labels": false, "title": null}},
           "y": {"field": "h213", "type": "quantitative", "axis": {"orient": "left", "values": [-0.1, 0.1, 0.2, 0.3, 0.4, 0.6], "tickSize": -3, "labels": false, "title": null}}}},
        {"mark": {"type": "line", "opacity": 0},
         "encoding": {
           "x": {"field": "v", "type": "quantitative", "axis": {"orient": "top", "values": [-4, -3, -2, -1, 1, 2, 3, 4, 6, 7, 8, 9, 11, 12, 13, 14, 16, 17, 18, 19], "tickSize": -3, "labels": false, "title": null}},
           "y": {"field": "h213", "type": "quantitative", "axis": {"orient": "right", "values": [-0.1, 0.1, 0.2, 0.3, 0.4, 0.6], "tickSize": -3, "labels": false, "title": null}}}},
        {"data": {"values": [{"vlsr": 11.6}]},
         "mark": {"type": "rule", "color": "black", "strokeWidth": 2, "strokeDash": [2, 5]},
         "encoding": {"x": {"field": "vlsr", "type": "quantitative", "axis": null}}},
        {"data": {"values": [{"label": "H₂¹³CO"}]},
         "mark": {"type": "text"},
         "encoding": {"text": {"field": "label"}, "x": {"datum": -2.9, "axis": null}, "y": {"datum": 0.35, "axis": null}}}
      ],
      "resolve": {"axis": {"x": "independent", "y": "independent"}}
    },
    {
      "width": 293, "height": 58,
      "layer": [
        {"mark": {"type": "line", "interpolate": "step", "color": "#666666", "strokeWidth": 2},
         "encoding": {
           "x": {"field": "v", "type": "quantitative", "scale": {"domain": [-5, 20], "nice": false, "zero": false}, "axis": {"orient": "bottom", "values": [-5, 0, 5, 10, 15, 20], "tickSize": -6, "labels": true, "labelFontSize": 14, "title": "Velocity (km s⁻¹)", "titlePadding": 2}},
           "y": {"field": "h2co", "type": "quantitative", "scale": {"domain": [-0.28, 1.02], "nice": false, "zero": false}, "axis": {"orient": "left", "values": [0, 0.5, 1], "format": ".1f", "tickSize": -6, "labels": true, "title": "Tₐ* (K)", "titlePadding": 7}}}},
        {"mark": {"type": "line", "opacity": 0},
         "encoding": {
           "x": {"field": "v", "type": "quantitative", "axis": {"orient": "top", "values": [-5, 0, 5, 10, 15, 20], "tickSize": -6, "labels": false, "title": null}},
           "y": {"field": "h2co", "type": "quantitative", "axis": {"orient": "right", "values": [0, 0.5, 1], "tickSize": -6, "labels": false, "title": null}}}},
        {"mark": {"type": "line", "opacity": 0},
         "encoding": {
           "x": {"field": "v", "type": "quantitative", "axis": {"orient": "bottom", "values": [-4, -3, -2, -1, 1, 2, 3, 4, 6, 7, 8, 9, 11, 12, 13, 14, 16, 17, 18, 19], "tickSize": -3, "labels": false, "title": null}},
           "y": {"field": "h2co", "type": "quantitative", "axis": {"orient": "left", "values": [-0.2, -0.1, 0.1, 0.2, 0.3, 0.4, 0.6, 0.7, 0.8, 0.9], "tickSize": -3, "labels": false, "title": null}}}},
        {"mark": {"type": "line", "opacity": 0},
         "encoding": {
           "x": {"field": "v", "type": "quantitative", "axis": {"orient": "top", "values": [-4, -3, -2, -1, 1, 2, 3, 4, 6, 7, 8, 9, 11, 12, 13, 14, 16, 17, 18, 19], "tickSize": -3, "labels": false, "title": null}},
           "y": {"field": "h2co", "type": "quantitative", "axis": {"orient": "right", "values": [-0.2, -0.1, 0.1, 0.2, 0.3, 0.4, 0.6, 0.7, 0.8, 0.9], "tickSize": -3, "labels": false, "title": null}}}},
        {"data": {"values": [{"vlsr": 11.6}]},
         "mark": {"type": "rule", "color": "black", "strokeWidth": 2, "strokeDash": [2, 5]},
         "encoding": {"x": {"field": "vlsr", "type": "quantitative", "axis": null}}},
        {"data": {"values": [{"label": "H₂CO"}]},
         "mark": {"type": "text"},
         "encoding": {"text": {"field": "label"}, "x": {"datum": -2.9, "axis": null}, "y": {"datum": 0.53, "axis": null}}}
      ],
      "resolve": {"axis": {"x": "independent", "y": "independent"}}
    }
  ]
}
